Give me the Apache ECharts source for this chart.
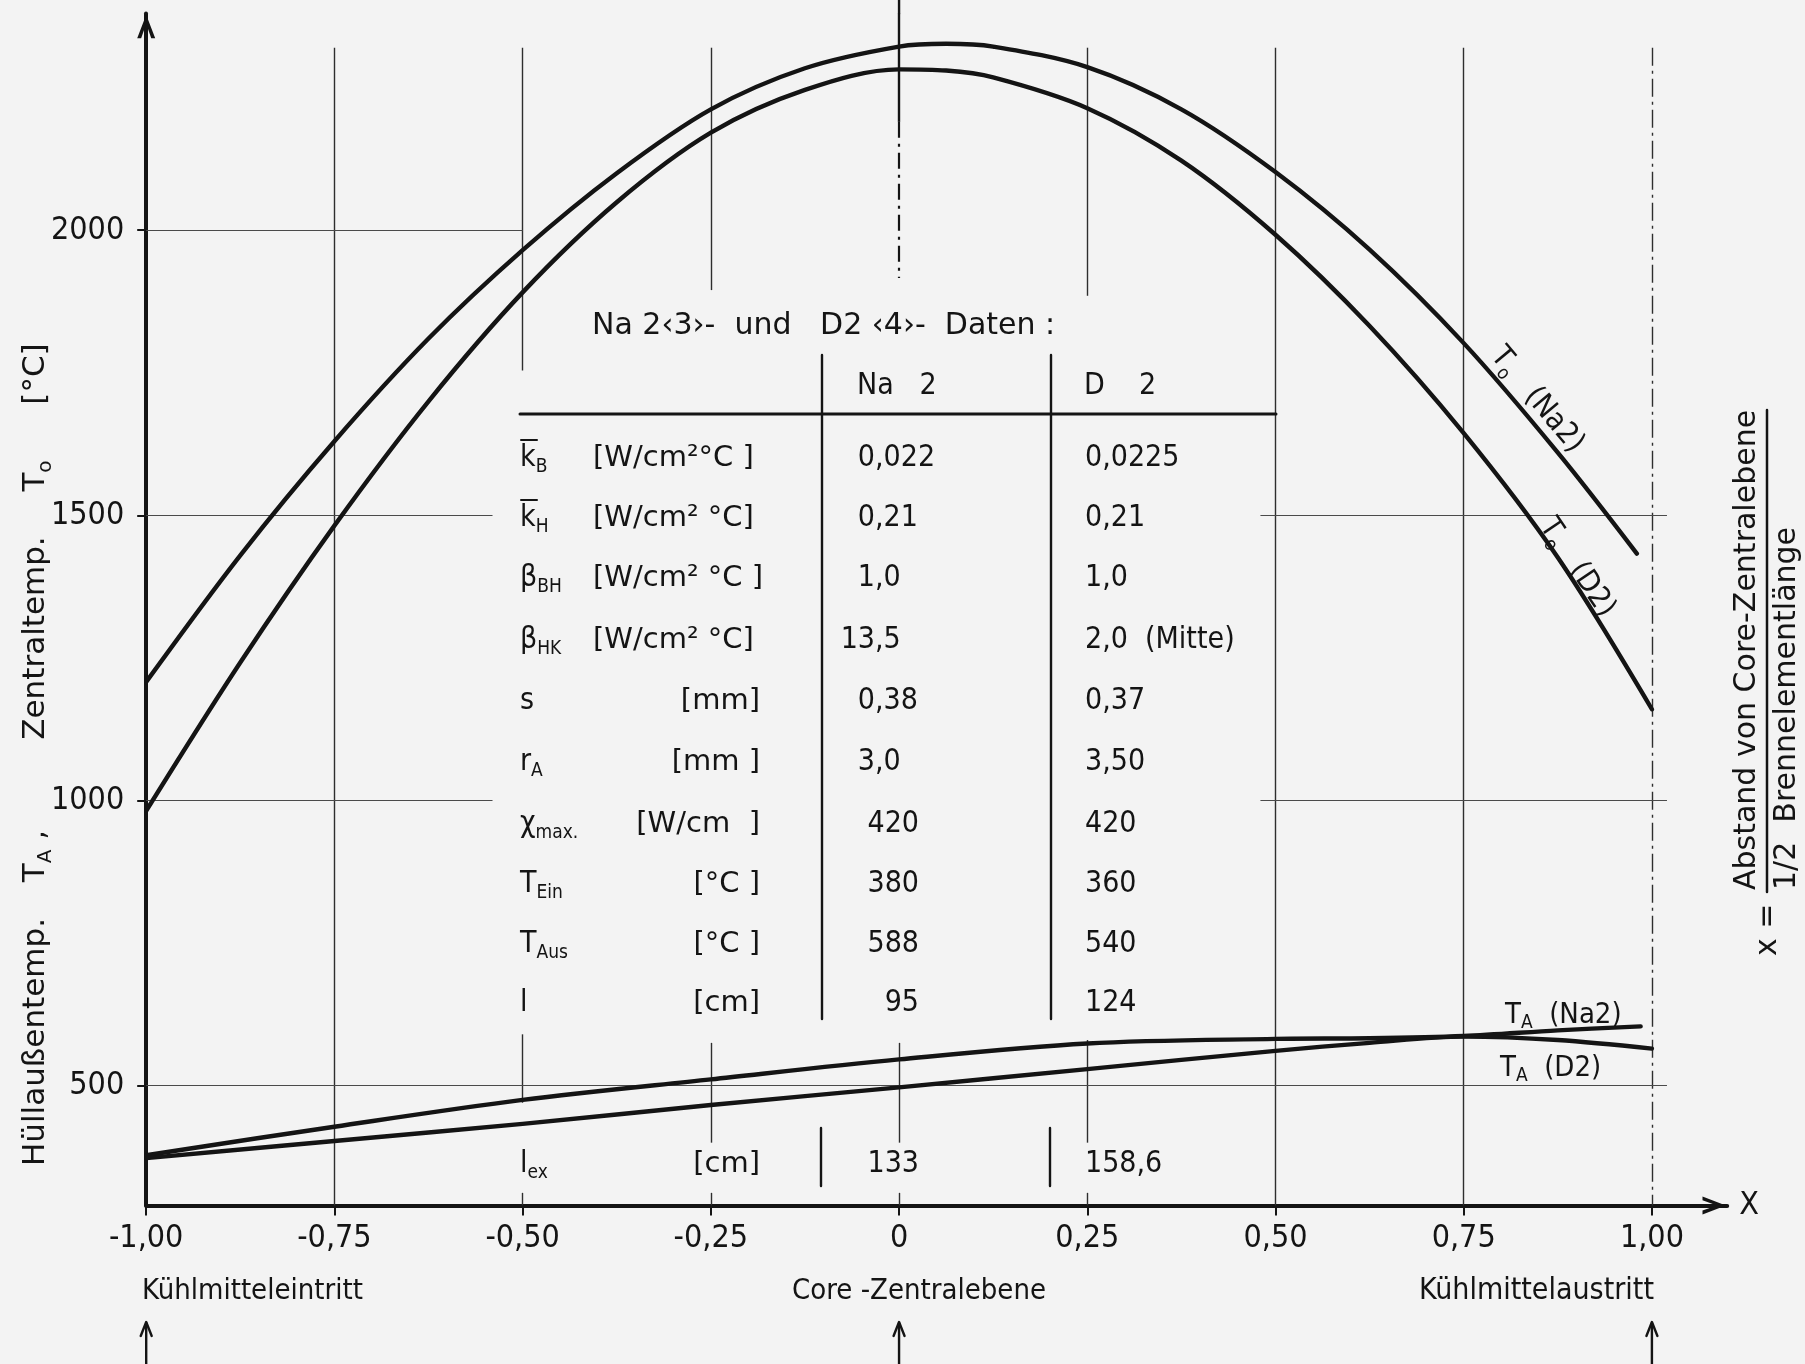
<!DOCTYPE html>
<html lang="de">
<head>
<meta charset="utf-8">
<title>Zentraltemperatur und Hüllaußentemperatur längs des Brennelements</title>
<script src="https://cdn.jsdelivr.net/npm/echarts@6/dist/echarts.min.js"></script>
<style>
  html, body { margin: 0; padding: 0; background: #f3f3f3; }
  #chart { width: 1805px; height: 1364px; }
</style>
</head>
<body>
<div id="chart"></div>
<script>
// x = Abstand von Core-Zentralebene / (1/2 Brennelementlänge)

// Zentraltemperatur To [°C], Element Na 2
const toNa2X = [-1, -0.875, -0.75, -0.625, -0.5, -0.375, -0.25, -0.125, 0, 0.0625, 0.125, 0.25, 0.375, 0.5, 0.625, 0.75, 0.875, 0.98];
const toNa2Y = [1208, 1430, 1630, 1810, 1965, 2100, 2212, 2284, 2322, 2327, 2322, 2286, 2212, 2102, 1966, 1802, 1610, 1433];

// Zentraltemperatur To [°C], Element D 2
const toD2X = [-1, -0.875, -0.75, -0.625, -0.5, -0.375, -0.25, -0.125, 0, 0.0625, 0.125, 0.25, 0.375, 0.5, 0.625, 0.75, 0.875, 1.0];
const toD2Y = [982, 1242, 1482, 1700, 1891, 2049, 2171, 2246, 2282, 2280, 2268, 2214, 2122, 1992, 1832, 1644, 1426, 1160];

// Hüllaußentemperatur TA [°C], Element Na 2
const taNa2X = [-1, -0.75, -0.5, -0.25, 0, 0.25, 0.5, 0.625, 0.75, 0.875, 0.985];
const taNa2Y = [378, 428, 475, 511, 546, 574, 582, 583, 587, 597, 604];

// Hüllaußentemperatur TA [°C], Element D 2
const taD2X = [-1, -0.75, -0.5, -0.25, 0, 0.25, 0.5, 0.625, 0.75, 0.875, 1.0];
const taD2Y = [373, 403, 433, 466, 497, 529, 561, 575, 586, 580, 565];

// Achsenteilung
const xTickValues = [-1, -0.75, -0.5, -0.25, 0, 0.25, 0.5, 0.75, 1];
const xTickLabels = ['-1,00', '-0,75', '-0,50', '-0,25', '0', '0,25', '0,50', '0,75', '1,00'];
const yTickValues = [500, 1000, 1500, 2000];
const yTickLabels = ['500', '1000', '1500', '2000'];

// Datentabelle
const tableTitle = 'Na 2‹3›-  und   D2 ‹4›-  Daten :';
const tableHeads = ['Na   2', 'D    2'];
const paramSymbol = ['k\u0304', 'k\u0304', 'β', 'β', 's', 'r', 'χ', 'T', 'T', 'l'];
const paramIndex = ['B', 'H', 'BH', 'HK', '', 'A', 'max.', 'Ein', 'Aus', ''];
const paramUnit = ['[W/cm²°C ]', '[W/cm² °C]', '[W/cm² °C ]', '[W/cm² °C]', '[mm]', '[mm ]', '[W/cm  ]', '[°C ]', '[°C ]', '[cm]'];
const valueNa2 = ['0,022', '0,21', '1,0', '13,5', '0,38', '3,0', '420', '380', '588', '95'];
const valueD2 = ['0,0225', '0,21', '1,0', '2,0  (Mitte)', '0,37', '3,50', '420', '360', '540', '124'];
const extSymbol = ['l', 'ex'];
const extUnit = '[cm]';
const extNa2 = '133';
const extD2 = '158,6';

// ---------------------------------------------------------------------------
const INK = '#141414';
const SANS = "'DejaVu Sans', sans-serif";
const COND = "'DejaVu Sans Condensed', 'DejaVu Sans', sans-serif";
const NARROW = "'Liberation Sans Narrow', 'DejaVu Sans Condensed', sans-serif";

const X_MIN = -1, X_MAX = 1.1, Y_MIN = 290, Y_MAX = 2380;
const GRID_TOP = 2320;

const chart = echarts.init(document.getElementById('chart'), null, { width: 1805, height: 1364 });

const pairs = (xs, ys) => xs.map((x, i) => [x, ys[i]]);
const tickLabel = (values, labels) => v => {
  const i = values.findIndex(t => Math.abs(t - v) < 1e-9);
  return i < 0 ? '' : labels[i];
};
// open arrow head, pointing up in its own frame
const arrowHead = 'path://M10,0 L20,26 L15.6,26 L10,10 L4.4,26 L0,26 Z';

const vStyle = { color: '#2e2e2e', width: 1.4, type: 'solid' };
const hStyle = { color: '#4a4a4a', width: 1.2, type: 'solid' };
const centreSolid = { color: INK, width: 2.4, type: 'solid' };
const centreDash = { color: INK, width: 2.2, type: [16, 6, 3, 6] };
const edgeDash = { color: '#2e2e2e', width: 1.4, type: [18, 5, 3, 5] };

const vSeg = (x, y1, y2, s) => [{ coord: [x, y1], lineStyle: s }, { coord: [x, y2] }];
const hSeg = (y, x1, x2, s) => [{ coord: [x1, y], lineStyle: s }, { coord: [x2, y] }];

const gridSegments = [
  vSeg(-0.75, GRID_TOP, Y_MIN, vStyle),
  vSeg(-0.5, GRID_TOP, 1754, vStyle), vSeg(-0.5, 590, 470, vStyle), vSeg(-0.5, 312, Y_MIN, vStyle),
  vSeg(-0.25, GRID_TOP, 1895, vStyle), vSeg(-0.25, 575, 400, vStyle), vSeg(-0.25, 312, Y_MIN, vStyle),
  vSeg(0, Y_MAX, 2190, centreSolid), vSeg(0, 2190, 1916, centreDash), vSeg(0, 575, 400, vStyle), vSeg(0, 312, Y_MIN, vStyle),
  vSeg(0.25, GRID_TOP, 1885, vStyle), vSeg(0.25, 580, 400, vStyle), vSeg(0.25, 312, Y_MIN, vStyle),
  vSeg(0.5, GRID_TOP, Y_MIN, vStyle),
  vSeg(0.75, GRID_TOP, Y_MIN, vStyle),
  vSeg(1, GRID_TOP, Y_MIN, edgeDash),
  hSeg(2000, -1, -0.5, hStyle),
  hSeg(1500, -1, -0.54, hStyle), hSeg(1500, 0.48, 1.02, hStyle),
  hSeg(1000, -1, -0.54, hStyle), hSeg(1000, 0.48, 1.02, hStyle),
  hSeg(500, -1, 1.02, hStyle)
];

const curve = (name, xs, ys) => ({
  type: 'line', name, data: pairs(xs, ys), smooth: 0.33, showSymbol: false, silent: true, z: 5,
  lineStyle: { color: INK, width: 4.4, cap: 'round', join: 'round' }
});

const option = {
  animation: false,
  backgroundColor: '#f3f3f3',
  grid: { left: 146.2, right: 77.8, top: 13.5, bottom: 158.6, containLabel: false, outerBoundsMode: 'none' },
  xAxis: {
    type: 'value', min: X_MIN, max: X_MAX,
    axisLine: {
      onZero: false, symbol: ['none', arrowHead], symbolSize: [18, 26], symbolOffset: [0, -13],
      lineStyle: { color: INK, width: 4 }
    },
    axisTick: { customValues: xTickValues, length: 10, lineStyle: { color: INK, width: 2 } },
    axisLabel: {
      customValues: xTickValues, formatter: tickLabel(xTickValues, xTickLabels),
      margin: 17, fontSize: 32, fontFamily: NARROW, color: INK
    },
    splitLine: { show: false },
    name: 'X', nameLocation: 'end', nameGap: 12,
    nameTextStyle: { fontSize: 32, fontFamily: COND, color: INK, verticalAlign: 'middle', align: 'left' }
  },
  yAxis: {
    type: 'value', min: Y_MIN, max: Y_MAX,
    axisLine: {
      onZero: false, symbol: ['none', arrowHead], symbolSize: [18, 26], symbolOffset: [0, -13],
      lineStyle: { color: INK, width: 4 }
    },
    axisTick: { customValues: yTickValues, length: 9, lineStyle: { color: INK, width: 2 } },
    axisLabel: {
      customValues: yTickValues, formatter: tickLabel(yTickValues, yTickLabels),
      margin: 22, fontSize: 32, fontFamily: NARROW, color: INK
    },
    splitLine: { show: false }
  },
  series: [
    {
      type: 'line', name: 'Raster', data: [[X_MIN, Y_MIN]], showSymbol: false, silent: true, z: 1,
      lineStyle: { opacity: 0 },
      markLine: {
        silent: true, symbol: ['none', 'none'], animation: false,
        label: { show: false }, emphasis: { disabled: true },
        data: gridSegments
      }
    },
    curve('To (Na2)', toNa2X, toNa2Y),
    curve('To (D2)', toD2X, toD2Y),
    curve('TA (Na2)', taNa2X, taNa2Y),
    curve('TA (D2)', taD2X, taD2Y)
  ]
};

chart.setOption(option);

// ---------------------------------------------------------------------------
// annotations: axis titles, curve names, data table, reference arrows
const px = (x, y) => chart.convertToPixel({ gridIndex: 0 }, [x, y]);

function text(x, y, content, o = {}) {
  const style = {
    text: content, fill: INK,
    fontSize: o.size || 30, fontFamily: o.family || COND,
    textAlign: o.align || 'left', textVerticalAlign: o.valign || 'middle',
    lineHeight: o.lineHeight || Math.round((o.size || 30) * 1.25)
  };
  if (o.rich) style.rich = o.rich;
  return { type: 'text', x, y, rotation: o.rotation || 0, silent: true, z: 20, style };
}
function richSub(size, family) {
  const lh = Math.round(size * 1.25);
  const ss = Math.round(size * 0.64);
  return {
    b: { fontSize: size, fontFamily: family, lineHeight: lh, verticalAlign: 'middle' },
    s: { fontSize: ss, fontFamily: family, lineHeight: ss, verticalAlign: 'bottom' }
  };
}
function line(x1, y1, x2, y2, w) {
  return { type: 'line', silent: true, z: 20, shape: { x1, y1, x2, y2 }, style: { stroke: INK, lineWidth: w || 2, lineCap: 'round' } };
}
function polyline(points, w) {
  return { type: 'polyline', silent: true, z: 20, shape: { points }, style: { stroke: INK, lineWidth: w || 2, fill: null, lineCap: 'round', lineJoin: 'round' } };
}

const g = [];
const UP = Math.PI / 2;
const deg = d => d * Math.PI / 180;

// y axis title (reads bottom to top)
const yTitleRich = richSub(31, SANS);
g.push(text(36, 1042, 'Hüllaußentemp.', { rotation: UP, align: 'center', size: 31, family: SANS }));
g.push(text(36, 856, '{b|T}{s|A} ,', { rotation: UP, align: 'center', size: 31, family: SANS, rich: yTitleRich }));
g.push(text(36, 638, 'Zentraltemp.', { rotation: UP, align: 'center', size: 31, family: SANS }));
g.push(text(36, 476, '{b|T}{s|o}', { rotation: UP, align: 'center', size: 31, family: SANS, rich: yTitleRich }));
g.push(text(36, 374, '[°C]', { rotation: UP, align: 'center', size: 31, family: SANS }));

// definition of x on the right margin
g.push(text(1768, 956, 'x =', { rotation: UP, size: 30, family: SANS }));
g.push(text(1747, 890, 'Abstand von Core-Zentralebene', { rotation: UP, size: 30, family: SANS }));
g.push(line(1767, 410, 1767, 892, 2.5));
g.push(text(1787, 890, '1/2  Brennelementlänge', { rotation: UP, size: 30, family: SANS }));

// curve names
const curveRich = richSub(30, COND);
g.push(text(1537, 400, '{b|T}{s|o}   (Na2)', { rotation: deg(-50), align: 'center', size: 30, rich: curveRich }));
g.push(text(1577, 568, '{b|T}{s|o}   (D2)', { rotation: deg(-56), align: 'center', size: 30, rich: curveRich }));
g.push(text(1505, 1015, '{b|T}{s|A}  (Na2)', { size: 29, rich: richSub(29, COND) }));
g.push(text(1500, 1068, '{b|T}{s|A}  (D2)', { size: 29, rich: richSub(29, COND) }));

// positions along the element
g.push(text(142, 1291, 'Kühlmitteleintritt', { size: 29 }));
g.push(text(919, 1291, 'Core -Zentralebene', { size: 29, align: 'center' }));
g.push(text(1654, 1291, 'Kühlmittelaustritt', { size: 30, align: 'right' }));
[-1, 0, 1].forEach(xv => {
  const x = px(xv, Y_MIN)[0];
  g.push(line(x, 1364, x, 1323, 2.4));
  g.push(polyline([[x - 5.5, 1336], [x, 1322], [x + 5.5, 1336]], 2.4));
});
// centre line continues to the top edge
{
  const c = px(0, Y_MAX);
  g.push(line(c[0], 0, c[0], c[1], 2.4));
}

// data table
const T = { sym: 520, unitL: 593, unitR: 760, naComma: 875, naInt: 919, d2: 1085, sep1: 822, sep2: 1051, right: 1276 };
const rowY = [458, 518, 578, 640, 701, 762, 824, 884, 944, 1003];
const tableRich = richSub(30, COND);

function symbolCell(sym, idx, y) {
  const hasBar = sym.indexOf('\u0304') >= 0;
  const base = sym.replace('\u0304', '');
  const out = [text(T.sym, y, '{b|' + base + '}' + (idx ? '{s|' + idx + '}' : ''), { rich: tableRich })];
  if (hasBar) out.push(line(T.sym + 1, y - 18, T.sym + 17, y - 18, 2));
  return out;
}
function decimalCell(str, y) {
  const i = str.indexOf(',');
  if (i < 0) return [text(T.naInt, y, str, { align: 'right' })];
  return [text(T.naComma, y, str.slice(0, i), { align: 'right' }), text(T.naComma, y, str.slice(i))];
}

g.push(text(592, 326, tableTitle, { family: SANS, size: 30 }));
g.push(text(857, 386, tableHeads[0]));
g.push(text(1084, 386, tableHeads[1]));
g.push(line(T.sym, 414, T.right, 414, 3));
g.push(line(T.sep1, 355, T.sep1, 1019, 2.4));
g.push(line(T.sep2, 355, T.sep2, 1019, 2.4));

paramSymbol.forEach((sym, r) => {
  const y = rowY[r];
  g.push(...symbolCell(sym, paramIndex[r], y));
  const unit = paramUnit[r];
  if (unit.indexOf('²') >= 0) g.push(text(T.unitL, y, unit, { family: SANS, size: 29 }));
  else g.push(text(T.unitR, y, unit, { align: 'right', family: SANS, size: 29 }));
  g.push(...decimalCell(valueNa2[r], y));
  g.push(text(T.d2, y, valueD2[r]));
});

// extrapolated length row below the curves
const yEx = 1164;
g.push(...symbolCell(extSymbol[0], extSymbol[1], yEx));
g.push(text(T.unitR, yEx, extUnit, { align: 'right', family: SANS, size: 29 }));
g.push(...decimalCell(extNa2, yEx));
g.push(text(T.d2, yEx, extD2));
g.push(line(T.sep1 - 1, 1128, T.sep1 - 1, 1186, 2.4));
g.push(line(T.sep2 - 1, 1128, T.sep2 - 1, 1186, 2.4));

chart.setOption({ graphic: { elements: g } });
</script>
</body>
</html>
